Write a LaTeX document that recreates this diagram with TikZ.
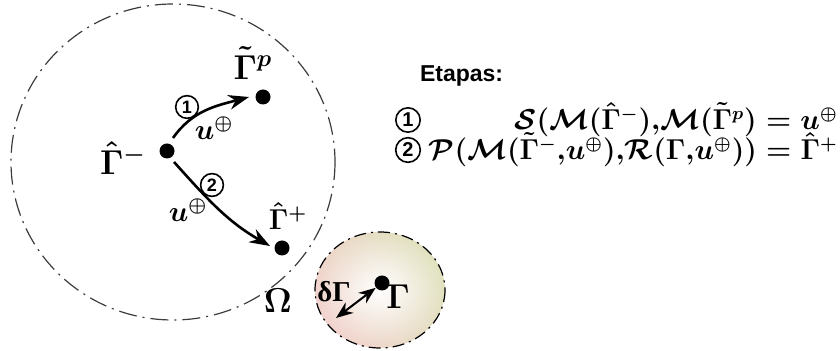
\documentclass[tikz,border=0pt]{standalone}
\usepackage{amsmath,amssymb}
\usepackage{fontspec}
\newfontfamily\etapasfont{Liberation Sans}
\newfontfamily\griegafont{Liberation Serif}
\usetikzlibrary{
    arrows.meta,                      % puntas Stealth
    fadings                           % brillo del disco
}
\tikzfading[name=brillo, inner color=transparent!0, outer color=transparent!100]
\tikzset{
    pt/.style={
        circle, fill=black, inner sep=0pt, minimum size=7.5
    },
    lbl/.style={
        font=\boldmath\LARGE, inner sep=0pt
    },
    circnum/.style={
        circle, draw, thick, inner sep=1.2pt,
        font=\etapasfont\bfseries\small
    }
}
\definecolor{disco_verde}{RGB}{224,226,190}
\definecolor{disco_rosa}{RGB}{242,210,205}
\definecolor{borde_gris}{RGB}{60,60,60}

\begin{document}
\begin{tikzpicture}[
      x=0.5pt, y=-0.5pt,
      >={Stealth[length=3.6mm, width=2.6mm]},
      arr/.style ={->, line width=1.3pt},
      dom/.style ={draw=borde_gris, line width=0.6pt,
                   dash pattern=on 9pt off 3pt on 1pt off 3pt},
      mat/.style ={font=\boldmath\fontsize{13.4}{16}\selectfont, inner sep=0pt, anchor=east}
    ]
    \useasboundingbox (0,0) rectangle (840,351);

    % --- Dominio Omega ---
    \draw[dom] (173,162) ellipse (162 and 158);

    % --- Disco de Gamma ---
    \shade[left color=disco_verde, right color=disco_rosa, shading angle=-60]
        (380,290) ellipse (65 and 58);
    \fill[white, path fading=brillo]
        (380,290) ellipse (65 and 58);
    \draw[dom, draw=black, dash pattern=on 6pt off 2.5pt on 1pt off 2.5pt]
        (380,290) ellipse (65 and 58);

    % --- Puntos ---
    \node[pt] (g_menos) at (167,151) {};
    \node[pt] (g_p)     at (263,97)  {};
    \node[pt] (g_mas)   at (282,248) {};
    \node[pt] (g_bord)  at (382,283) {};

    % --- Etiquetas ---
    \node[lbl] (l_menos) at (123,158) {$\hat{\Gamma}^{-}$};
    \node[lbl] (l_p)     at (253,63)  {$\tilde{\Gamma}^{p}$};
    \node[lbl, font=\boldmath\Large] (l_mas) at (288,216) {$\hat{\Gamma}^{+}$};
    \node[lbl] (l_omega) at (278,301) {$\Omega$};
    \node[lbl] (l_gam)   at (398,297) {$\Gamma$};
    \node[lbl, font=\griegafont\bfseries\Large] (l_dgam) at (334,292) {δΓ};

    % --- Etapas en el dibujo ---
    \node[circnum] (c1) at (187,107) {1};
    \node[circnum] (c2) at (212,185) {2};
    \node[lbl, font=\boldmath\Large] (u1) at (214,128) {$u^{\oplus}$};
    \node[lbl, font=\boldmath\Large] (u2) at (188,210) {$u^{\oplus}$};

    \draw[arr] (g_menos) ++(6,-13) coordinate (a1)
        to[out=55, in=195] ([xshift=-7pt]g_p.center);
    \draw[arr] (g_menos) ++(7,11) coordinate (a2)
        to[out=-48, in=150] ([xshift=-6pt,yshift=1pt]g_mas.center);

    \draw[<->, line width=1pt, >={Stealth[length=3mm, width=2.3mm]}]
        (336,318) -- (g_bord);

    % --- Leyenda (Etapas) ---
    \node[font=\etapasfont\bfseries\fontsize{11.5}{14}\selectfont, anchor=west]
        (etapas) at (413,76) {Etapas:};
    \node[circnum, font=\etapasfont\bfseries\normalsize] (e1) at (408,120) {1};
    \node[circnum, font=\etapasfont\bfseries\normalsize] (e2) at (408,150) {2};
    \node[mat] (f1) at (838,120)
        {$\mathcal{S}(\mathcal{M}(\hat{\Gamma}^{-}){,}\mathcal{M}(\tilde{\Gamma}^{p}) = u^{\oplus}$};
    \node[mat] (f2) at (838,150)
        {$\mathcal{P}(\mathcal{M}(\tilde{\Gamma}^{-}{,}u^{\oplus}){,}\mathcal{R}(\Gamma{,}u^{\oplus})) = \hat{\Gamma}^{+}$};

  \end{tikzpicture}
\end{document}
